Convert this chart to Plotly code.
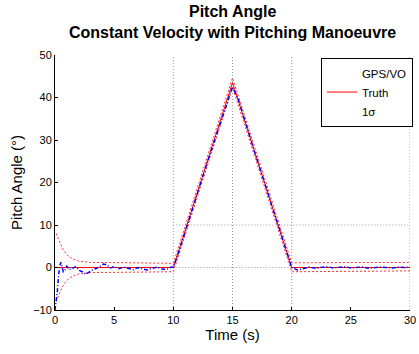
import plotly.graph_objects as go

# ---- data ----
truth_t = [0, 10, 15, 20, 30]
truth_v = [0, 0, 43.5, 0, 0]

upper_t = [0.1, 0.3, 0.6, 1.0, 1.5, 2.0, 3.0, 10.0, 15.0, 20.0, 30.0]
upper_v = [8.0, 6.5, 4.6, 3.0, 2.0, 1.5, 1.2, 1.0, 44.6, 1.1, 1.2]
lower_t = [0.1, 0.3, 0.6, 1.0, 1.5, 2.0, 3.0, 10.0, 15.0, 20.0, 30.0]
lower_v = [-8.0, -6.5, -4.6, -3.0, -2.0, -1.5, -1.2, -1.0, 42.4, -1.0, -0.8]

est_t = [0.0, 0.1, 0.2, 0.3, 0.4, 0.5, 0.6, 0.7, 0.8, 1.0, 1.2, 1.5, 1.8, 2.0,
         2.3, 2.6, 2.9, 3.2, 3.5, 3.8, 4.1, 4.4, 4.7, 5.0, 5.4, 5.8, 6.2, 6.6,
         7.0, 7.4, 7.8, 8.2, 8.6, 9.0, 9.4, 9.8, 10.0, 10.5, 11.0, 11.5, 12.0,
         12.5, 13.0, 13.5, 14.0, 14.5, 15.0, 15.5, 16.0, 16.5, 17.0, 17.5, 18.0,
         18.5, 19.0, 19.5, 20.0, 20.5, 21.0, 21.5, 22.0, 22.5, 23.0, 23.5, 24.0,
         24.5, 25.0, 25.5, 26.0, 26.5, 27.0, 27.5, 28.0, 28.5, 29.0, 29.5, 30.0]
est_v = [-10.0, -8.0, -5.5, -2.0, 0.5, 1.2, 0.2, -1.0, -0.8, 0.3, -0.5, -0.2, 0.2, -0.6,
         -1.0, -1.6, -1.0, -0.5, -0.2, 0.3, 0.8, 0.6, -0.1, 0.2, -0.3, 0.1, -0.2, -0.5,
         0.0, -0.3, -0.6, -0.2, 0.1, -0.3, -0.5, 0.1, 0.0, 4.0, 8.5, 12.6, 17.0,
         21.5, 25.8, 30.0, 34.2, 38.5, 42.5, 39.5, 35.0, 30.2, 26.0, 21.8, 17.2,
         13.0, 8.8, 4.2, 0.0, -0.6, -0.2, 0.1, -0.2, 0.0, 0.2, -0.1, 0.1,
         0.2, -0.1, 0.0, 0.1, -0.2, 0.0, 0.1, 0.0, -0.1, 0.1, 0.0, 0.1]

x_ticks = [0, 5, 10, 15, 20, 25, 30]
y_ticks = [-10, 0, 10, 20, 30, 40, 50]
x_grid = [10, 15, 20, 30]
y_grid = [0, 10]

font = "Liberation Sans, Arial, Helvetica, sans-serif"

fig = go.Figure()
fig.add_trace(go.Scatter(x=upper_t, y=upper_v, mode="lines", showlegend=False,
                         line=dict(color="#ff3030", width=1, dash="2px,2px")))
fig.add_trace(go.Scatter(x=lower_t, y=lower_v, mode="lines", showlegend=False,
                         line=dict(color="#ff3030", width=1, dash="2px,2px")))
fig.add_trace(go.Scatter(x=truth_t, y=truth_v, mode="lines", showlegend=False,
                         line=dict(color="#ff0000", width=1)))
fig.add_trace(go.Scatter(x=est_t, y=est_v, mode="lines", showlegend=False,
                         line=dict(color="#0000ff", width=1.5, dash="4px,2px,1px,2px")))
# legend entries
fig.add_trace(go.Scatter(x=[None], y=[None], mode="lines", name="GPS/VO",
                         line=dict(color="rgba(0,0,0,0)", width=1)))
fig.add_trace(go.Scatter(x=[None], y=[None], mode="lines", name="Truth",
                         line=dict(color="#ff0000", width=1)))
fig.add_trace(go.Scatter(x=[None], y=[None], mode="lines", name="1σ",
                         line=dict(color="rgba(0,0,0,0)", width=1)))

shapes = []
for gx in x_grid:
    shapes.append(dict(type="line", xref="x", yref="paper", x0=gx, x1=gx, y0=0, y1=1,
                       line=dict(color="#9a9a9a", width=1, dash="1px,2px"), layer="below"))
for gy in y_grid:
    shapes.append(dict(type="line", xref="x", yref="y", x0=10, x1=30, y0=gy, y1=gy,
                       line=dict(color="#9a9a9a", width=1, dash="1px,2px"), layer="below"))

fig.update_layout(
    width=419, height=354,
    margin=dict(l=55, r=6, t=55, b=44),
    paper_bgcolor="white", plot_bgcolor="white",
    font=dict(family=font, size=11, color="#000000"),
    shapes=shapes,
    annotations=[
        dict(text="<b>Pitch Angle</b>", xref="paper", yref="paper", x=0.5, y=1.169,
             showarrow=False, font=dict(size=16), xanchor="center", yanchor="middle"),
        dict(text="<b>Constant Velocity with Pitching Manoeuvre</b>", xref="paper", yref="paper",
             x=0.5, y=1.09, showarrow=False, font=dict(size=16), xanchor="center", yanchor="middle"),
    ],
    xaxis=dict(range=[0, 30], tickvals=x_ticks, ticks="inside", ticklen=3, tickcolor="#000",
               showgrid=False, zeroline=False, showline=True, linecolor="#000", linewidth=1,
               ticklabeloverflow="allow", automargin=False,
               title=dict(text="Time (s)", font=dict(size=15), standoff=4)),
    yaxis=dict(range=[-10, 50], tickvals=y_ticks, ticks="inside", ticklen=3, tickcolor="#000",
               showgrid=False, zeroline=False, showline=True, linecolor="#000", linewidth=1,
               automargin=False,
               title=dict(text="Pitch Angle (°)", font=dict(size=15), standoff=6)),
    legend=dict(x=0.749, y=0.99, xanchor="left", yanchor="top", bgcolor="white",
                bordercolor="#000", borderwidth=1, font=dict(size=11.5), tracegroupgap=0),
)

fig.write_html("out.html")
